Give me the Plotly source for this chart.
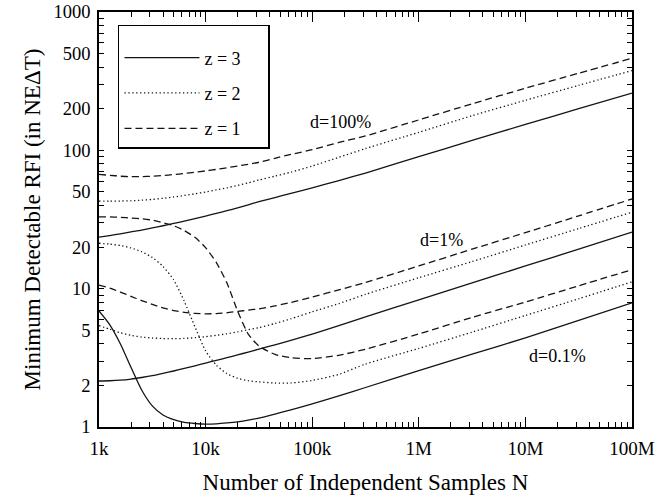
import math
import plotly.graph_objects as go

# ---------------- data ----------------
N = [1000, 1259, 1585, 1995, 2512, 3162, 3981, 5012, 6310, 7943,
     10000, 12589, 15849, 19953, 25119, 31623, 44668, 63096, 100000,
     177828, 316228, 1000000, 3162278, 10000000, 31622777, 100000000]

# d = 100 %
d100_z3 = [23.6, 24.2, 24.9, 25.7, 26.5, 27.5, 28.5, 29.6, 30.8, 32.1,
           33.5, 35.0, 36.6, 38.4, 40.4, 42.5, 45.6, 48.9, 53.5,
           60.5, 68.5, 90.0, 118.0, 154.0, 200.0, 259.0]
d100_z2 = [43.0, 43.0, 43.0, 43.2, 43.6, 44.2, 45.0, 46.0, 47.2, 48.5,
           50.0, 51.7, 53.6, 55.8, 58.2, 61.0, 65.0, 69.5, 77.0,
           89.0, 103.0, 135.0, 178.0, 230.0, 295.0, 377.0]
d100_z1 = [67.0, 66.0, 65.0, 64.5, 64.5, 65.0, 65.8, 66.8, 68.0, 69.5,
           71.0, 72.8, 74.8, 77.0, 79.3, 82.0, 87.6, 93.5, 101.0,
           114.0, 127.0, 166.0, 217.0, 281.0, 361.0, 463.0]

# d = 1 %
d1_z3 = [2.15, 2.16, 2.18, 2.22, 2.28, 2.35, 2.44, 2.54, 2.65, 2.77,
         2.90, 3.03, 3.17, 3.32, 3.48, 3.65, 3.93, 4.23, 4.70,
         5.40, 6.25, 8.30, 11.0, 14.6, 19.3, 25.6]
d1_z2 = [5.40, 5.10, 4.80, 4.60, 4.47, 4.40, 4.36, 4.35, 4.37, 4.42,
         4.50, 4.60, 4.72, 4.88, 5.05, 5.22, 5.60, 6.05, 6.80,
         7.80, 9.10, 12.0, 15.7, 20.7, 27.2, 35.7]
d1_z1 = [10.6, 10.1, 9.45, 8.80, 8.20, 7.70, 7.25, 6.95, 6.75, 6.62,
         6.58, 6.60, 6.70, 6.85, 7.00, 7.15, 7.50, 7.95, 8.70,
         9.80, 11.1, 14.6, 19.3, 25.4, 33.6, 44.5]

# d = 0.1 %
d01_z3 = [6.90, 5.50, 4.00, 2.70, 1.85, 1.42, 1.22, 1.13, 1.08, 1.06,
          1.05, 1.055, 1.07, 1.09, 1.12, 1.16, 1.24, 1.33, 1.47,
          1.68, 1.93, 2.56, 3.36, 4.41, 5.90, 7.90]
d01_z2 = [21.3, 21.0, 20.5, 19.7, 18.5, 16.8, 14.5, 11.6, 8.10, 5.30,
          3.55, 2.80, 2.43, 2.25, 2.16, 2.12, 2.08, 2.08, 2.17,
          2.40, 2.85, 3.70, 4.85, 6.40, 8.45, 11.2]
d01_z1 = [33.0, 33.0, 32.8, 32.4, 32.0, 31.3, 30.0, 28.5, 26.3, 23.5,
          19.8, 15.5, 11.0, 6.90, 4.70, 3.85, 3.35, 3.17, 3.12,
          3.30, 3.65, 4.70, 6.20, 8.00, 10.5, 13.7]

x_tick_vals = [1e3, 1e4, 1e5, 1e6, 1e7, 1e8]
x_tick_text = ["1k", "10k", "100k", "1M", "10M", "100M"]
y_label_vals = [1, 2, 5, 10, 20, 50, 100, 200, 500, 1000]
y_major_vals = [1, 10, 100, 1000]

labels = ["d=100%", "d=1%", "d=0.1%"]
label_N = [186000, 1650000, 19800000]
label_y = [160, 22.5, 3.26]

# ---------------- figure ----------------
INK = "#141414"
FONT = "Liberation Serif"
NBSP = "\u00a0"
styles = {3: dict(dash="solid", name="z = 3" + NBSP * 5),
          2: dict(dash="1.3px,2.6px", name="z = 2" + NBSP * 5),
          1: dict(dash="7px,4px", name="z = 1" + NBSP * 5)}

groups = [(d100_z3, d100_z2, d100_z1), (d1_z3, d1_z2, d1_z1), (d01_z3, d01_z2, d01_z1)]

fig = go.Figure()
for gi, (s3, s2, s1) in enumerate(groups):
    for z, ys in ((3, s3), (2, s2), (1, s1)):
        st = styles[z]
        fig.add_trace(go.Scatter(
            x=N, y=ys, mode="lines", name=st["name"],
            legendgroup=f"z{z}", showlegend=(gi == 0),
            line=dict(color=INK, width=1.3, dash=st["dash"], shape="spline", smoothing=0.6),
            hoverinfo="skip"))

x_minor = [m * 10 ** e for e in range(3, 8) for m in range(2, 10)]
y_minor = [m * 10 ** e for e in range(0, 3) for m in range(2, 10)]

fig.update_layout(
    width=672, height=498,
    margin=dict(l=99, r=40, t=12, b=71),
    paper_bgcolor="white", plot_bgcolor="white",
    font=dict(family=FONT, size=18, color="black"),
    xaxis=dict(
        type="log", range=[3, 8], automargin=False,
        tickmode="array", tickvals=x_tick_vals, ticktext=x_tick_text,
        tickfont=dict(family=FONT, size=19), ticklabelstandoff=3,
        ticks="inside", ticklen=10, tickwidth=1, tickcolor="black",
        showline=True, linecolor="black", linewidth=1.5, mirror="allticks",
        showgrid=False, zeroline=False,
        minor=dict(tickmode="array", tickvals=x_minor, ticks="inside",
                   ticklen=5, tickwidth=1, tickcolor="black", showgrid=False),
        title=dict(text="Number of Independent Samples N",
                   font=dict(family=FONT, size=23), standoff=16),
    ),
    yaxis=dict(
        type="log", range=[0, 3], automargin=False,
        tickmode="array", tickvals=y_label_vals, ticktext=[str(v) for v in y_label_vals],
        tickfont=dict(family=FONT, size=18.5), ticklabelstandoff=3,
        ticks="inside", ticklen=5, tickwidth=1, tickcolor="black",
        showline=True, linecolor="black", linewidth=1.5, mirror="allticks",
        showgrid=False, zeroline=False,
        minor=dict(tickmode="array", tickvals=y_minor, ticks="inside",
                   ticklen=5, tickwidth=1, tickcolor="black", showgrid=False),
        title=dict(text="Minimum Detectable RFI (in NE\u0394T)",
                   font=dict(family=FONT, size=23), standoff=6),
    ),
    yaxis2=dict(
        type="log", range=[0, 3], overlaying="y", anchor="x", side="left",
        automargin=False,
        tickmode="array", tickvals=y_major_vals, showticklabels=False,
        ticks="inside", ticklen=10, tickwidth=1, tickcolor="black",
        showline=True, linecolor="black", linewidth=1.5, mirror="allticks",
        showgrid=False, zeroline=False,
    ),
    legend=dict(
        x=0.0356, y=0.969, xanchor="left", yanchor="top",
        bgcolor="white", bordercolor="black", borderwidth=1.5,
        font=dict(family=FONT, size=18),
        tracegroupgap=9, itemwidth=75,
        title=dict(text=" ", font=dict(size=10)),
    ),
    showlegend=True,
)

for txt, nx, ny in zip(labels, label_N, label_y):
    fig.add_annotation(x=math.log10(nx), y=math.log10(ny), xref="x", yref="y",
                       text=txt, showarrow=False, font=dict(size=18, family=FONT),
                       xanchor="center", yanchor="middle")

fig.write_html("out.html")
